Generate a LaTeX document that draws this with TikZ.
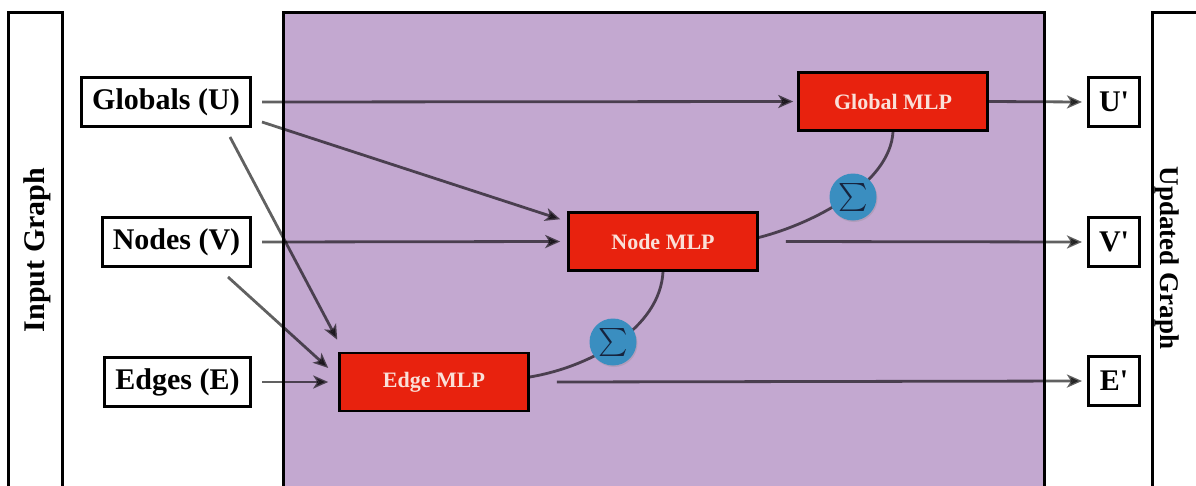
\documentclass[tikz,border=0pt]{standalone}
\usepackage{fontspec}
\usepackage{graphicx}
\setmainfont{Liberation Serif}[Ligatures=TeXOff]
\usetikzlibrary{arrows.meta,shadows,calc}
\definecolor{panelpurple}{RGB}{195,168,208}
\definecolor{mlpred}{RGB}{232,34,14}
\definecolor{sumblue}{RGB}{58,142,192}
\definecolor{mlptext}{RGB}{250,224,216}
\definecolor{sumink}{RGB}{22,36,62}
\begin{document}
\begin{tikzpicture}[x=1pt,y=-1pt,
  panel/.style={draw=black,line width=3pt},
  inbox/.style={draw=black,line width=3pt,fill=white,inner sep=0pt,minimum height=49pt,font=\fontsize{30}{30}\selectfont\bfseries},
  mlpbox/.style={draw=black,line width=2.5pt,fill=mlpred,inner sep=0pt,minimum width=189pt,minimum height=58pt,text=mlptext,font=\fontsize{22}{22}\selectfont\bfseries},
  sumnode/.style={circle,fill=sumblue,minimum size=47pt,inner sep=0pt,text=sumink,drop shadow={shadow xshift=1pt,shadow yshift=-1.5pt,opacity=0.25}},
  conn/.style={draw=black,draw opacity=0.62,fill opacity=0.62,line width=2.8pt,-{Stealth[length=15pt,width=13pt,inset=4pt]}},
  flow/.style={draw=black,draw opacity=0.62,line width=2.8pt},
  sidelabel/.style={inner sep=0pt}
]
\clip (0,0) rectangle (1196,485);
\fill[white] (0,0) rectangle (1196,485);
% panels
\draw[panel] (8,12) rectangle (62,520);
\fill[panelpurple] (283,12) rectangle (1044,520);
\draw[panel] (283,12) rectangle (1044,520);
\draw[panel] (1152,12) rectangle (1230,520);
\node[sidelabel,rotate=90,font=\fontsize{30}{30}\selectfont\bfseries] (ing) at (37,250) {Input Graph};
\node[sidelabel,rotate=-90,font=\fontsize{27}{27}\selectfont\bfseries] (upg) at (1167,258) {Updated Graph};
% inputs
\node[inbox,minimum width=169pt] (glob) at (166,102) {Globals (U)};
\node[inbox,minimum width=148pt] (nodes) at (176.5,242) {Nodes (V)};
\node[inbox,minimum width=146pt] (edges) at (177.5,382) {Edges (E)};
% outputs
\node[inbox,minimum width=51pt] (uo) at (1114,102) {U'};
\node[inbox,minimum width=51pt] (vo) at (1114,242) {V'};
\node[inbox,minimum width=51pt] (eo) at (1114,381) {E'};
% MLPs
\node[mlpbox] (gmlp) at (893,101.5) {Global MLP};
\node[mlpbox] (nmlp) at (663,241.5) {Node MLP};
\node[mlpbox] (emlp) at (434,382) {Edge MLP};
% aggregation curves
\draw[flow] ($(emlp.east)+(0,-5)$) .. controls +(60,-10) and +(-3,57) .. (nmlp.south);
\draw[flow] ($(nmlp.east)+(0,-4)$) .. controls +(55,-14) and +(-3,52) .. (gmlp.south);
\node[sumnode] (s1) at (613,342) {\scalebox{2.8}{$\sum$}};
\node[sumnode] (s2) at (853,197) {\scalebox{2.8}{$\sum$}};
% connectors
\draw[conn] ($(glob.east)+(10,0)$) -- ($(gmlp.west)+(-4,0)$);
\draw[conn] ($(glob.east)+(10,20)$) -- ($(nmlp.north west)+(-7,8)$);
\draw[conn] ($(glob.south east)+(-22,9)$) -- ($(emlp.north west)+(-1,-12)$);
\draw[conn] ($(nodes.east)+(10,0)$) -- ($(nmlp.west)+(-7,0)$);
\draw[conn] ($(nodes.south east)+(-24,9)$) -- ($(emlp.west)+(-10,-14)$);
\draw[conn] ($(edges.east)+(10,0)$) -- ($(emlp.west)+(-10,0)$);
\draw[conn] (gmlp.east) -- ($(uo.west)+(-5,0)$);
\draw[conn] ($(nmlp.east)+(27,0)$) -- ($(vo.west)+(-5,0)$);
\draw[conn] ($(emlp.east)+(27,0)$) -- ($(eo.west)+(-5,0)$);
\end{tikzpicture}
\end{document}
